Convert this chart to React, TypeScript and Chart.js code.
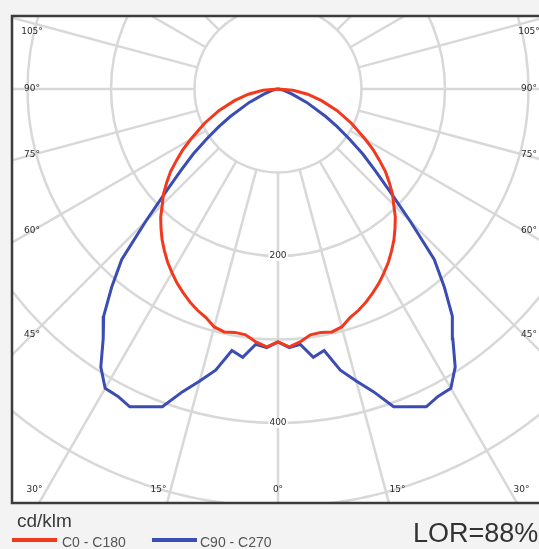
import React, { useEffect, useRef } from 'react';
import { Chart, registerables } from 'chart.js';

Chart.register(...registerables);

// Gamma angles (degrees from nadir) of the measured half-planes
const GAMMA = [0, 2.5, 5, 7.5, 10, 12.5, 15, 17.5, 20, 22.5, 25, 27.5, 30, 32.5, 35, 37.5, 40, 42.5, 45, 47.5, 50, 52.5, 55, 57.5, 60, 65, 70, 75, 80, 85, 90];
// Luminous intensity, cd/klm
const C0_C180 = [303, 309, 304, 297, 296, 298, 295, 287, 282, 276, 269, 262, 254, 246, 237, 228, 218, 208, 196, 186, 174, 162, 148, 135, 121, 97, 75, 54, 36, 18, 0];
const C90_C270 = [303, 310, 307, 324, 318, 345, 362, 380, 405, 412, 420, 415, 414, 395, 365, 343, 310, 277, 224, 182, 152, 128, 104, 84, 66, 38, 18, 8, 4, 2, 0];

const SERIES_NAMES = ['C0 - C180', 'C90 - C270'];
const SERIES_COLORS = ['#f2381d', '#3b4cb3'];
const RADIAL_RINGS = [100, 200, 300, 400, 500, 600, 700];
const RADIAL_LABELS = ['200', '400'];
const SPOKE_ANGLES = [0, 15, 30, 45, 60, 75, 90, 105, 120, 135, 150, 165, 180, 195, 210, 225, 240, 255, 270, 285, 300, 315, 330, 345];
const SIDE_LABELS = ['105°', '90°', '75°', '60°', '45°'];
const BOTTOM_LABELS = ['30°', '15°', '0°', '15°', '30°'];
const UNIT = 'cd/klm';
const LOR_TEXT = 'LOR=88%';

const rad = (d: number) => (d * Math.PI) / 180;

function polarPoints(values: number[]) {
  const pts: { x: number; y: number }[] = [];
  for (let i = GAMMA.length - 1; i >= 0; i--) {
    const g = rad(GAMMA[i]);
    pts.push({ x: -values[i] * Math.sin(g), y: -values[i] * Math.cos(g) });
  }
  for (let i = 1; i < GAMMA.length; i++) {
    const g = rad(GAMMA[i]);
    pts.push({ x: values[i] * Math.sin(g), y: -values[i] * Math.cos(g) });
  }
  return pts;
}

const polarGrid = {
  id: 'polarGrid',
  beforeDraw(chart: any) {
    const { ctx, chartArea: a, scales } = chart;
    const xs = scales.x;
    const ys = scales.y;
    const cx = xs.getPixelForValue(0);
    const cy = ys.getPixelForValue(0);
    const px = (v: number) => xs.getPixelForValue(v) - cx;
    ctx.save();
    ctx.fillStyle = '#f3f3f3';
    ctx.fillRect(0, 0, chart.width, chart.height);
    ctx.fillStyle = '#ffffff';
    ctx.fillRect(a.left, a.top, a.right - a.left, a.bottom - a.top);
    ctx.beginPath();
    ctx.rect(a.left, a.top, a.right - a.left, a.bottom - a.top);
    ctx.clip();
    ctx.strokeStyle = '#d8d8d8';
    ctx.lineWidth = 2.5;
    RADIAL_RINGS.forEach((r) => {
      ctx.beginPath();
      ctx.arc(cx, cy, px(r), 0, Math.PI * 2);
      ctx.stroke();
    });
    const r0 = px(RADIAL_RINGS[0]);
    const r1 = px(RADIAL_RINGS[RADIAL_RINGS.length - 1]);
    SPOKE_ANGLES.forEach((g) => {
      const s = Math.sin(rad(g));
      const c = Math.cos(rad(g));
      ctx.beginPath();
      ctx.moveTo(cx + r0 * s, cy + r0 * c);
      ctx.lineTo(cx + r1 * s, cy + r1 * c);
      ctx.stroke();
    });

    // labels
    ctx.fillStyle = '#2a2a2a';
    ctx.font = '9px "DejaVu Sans", sans-serif';
    ctx.textAlign = 'center';
    ctx.textBaseline = 'middle';
    const sideDx = cx - a.left - 19;
    SIDE_LABELS.forEach((t) => {
      const g = parseFloat(t);
      let yy = cy + sideDx / Math.tan(rad(g));
      if (yy < a.top + 15) yy = a.top + 15;
      ctx.fillText(t, cx - sideDx, yy);
      ctx.fillText(t, cx + sideDx + 5, yy);
    });
    const by = a.bottom - 12;
    BOTTOM_LABELS.forEach((t, i) => {
      const g = parseFloat(t);
      const sign = i < 2 ? -1 : 1;
      const off = g === 0 ? 0 : (by - cy) * Math.tan(rad(g)) + 12;
      ctx.fillText(t, cx + sign * off, by);
    });
    RADIAL_LABELS.forEach((t) => {
      const yy = cy + px(parseFloat(t));
      const w = ctx.measureText(t).width;
      ctx.fillStyle = '#ffffff';
      ctx.fillRect(cx - w / 2 - 1, yy - 5, w + 2, 10);
      ctx.fillStyle = '#2a2a2a';
      ctx.fillText(t, cx, yy);
    });
    ctx.restore();
  },
  afterDraw(chart: any) {
    const { ctx, chartArea: a } = chart;
    ctx.save();
    ctx.strokeStyle = '#3c3c3c';
    ctx.lineWidth = 2.5;
    ctx.strokeRect(a.left - 1, a.top - 1, a.right - a.left + 20, a.bottom - a.top + 2);
    ctx.restore();
  },
};

export default function App() {
  const ref = useRef<HTMLCanvasElement | null>(null);
  useEffect(() => {
    if (!ref.current) return;
    const chart = new Chart(ref.current, {
      type: 'scatter',
      data: {
        datasets: [
          {
            label: SERIES_NAMES[0],
            data: polarPoints(C0_C180),
            showLine: true,
            borderColor: SERIES_COLORS[0],
            backgroundColor: SERIES_COLORS[0],
            borderWidth: 3,
            pointRadius: 0,
            tension: 0,
          },
          {
            label: SERIES_NAMES[1],
            data: polarPoints(C90_C270),
            showLine: true,
            borderColor: SERIES_COLORS[1],
            backgroundColor: SERIES_COLORS[1],
            borderWidth: 3,
            pointRadius: 0,
            tension: 0,
          },
        ],
      },
      options: {
        responsive: false,
        maintainAspectRatio: false,
        animation: false,
        devicePixelRatio: 1,
        layout: { padding: { left: 13, top: 17, right: 0, bottom: 47 } },
        plugins: { legend: { display: false }, tooltip: { enabled: false } },
        scales: {
          x: { type: 'linear', min: -317.4, max: 312.6, display: false },
          y: { type: 'linear', min: -494.6, max: 86.2, display: false },
        },
      },
      plugins: [polarGrid],
    });
    return () => chart.destroy();
  }, []);

  const font = '"Liberation Sans", Arial, sans-serif';
  return (
    <div style={{ position: 'fixed', left: 0, top: 0, width: 539, height: 549, overflow: 'hidden', background: '#f3f3f3' }}>
      <canvas ref={ref} width={539} height={549} style={{ position: 'absolute', left: 0, top: 0 }} />
      <div style={{ position: 'absolute', left: 17, top: 511, fontFamily: font, fontSize: 19, lineHeight: 1, color: '#3a3a3a' }}>{UNIT}</div>
      <div style={{ position: 'absolute', left: 12, top: 538, width: 45, height: 4, background: SERIES_COLORS[0] }} />
      <div style={{ position: 'absolute', left: 62, top: 535, fontFamily: font, fontSize: 14, lineHeight: 1, color: '#555' }}>{SERIES_NAMES[0]}</div>
      <div style={{ position: 'absolute', left: 152, top: 538, width: 45, height: 4, background: SERIES_COLORS[1] }} />
      <div style={{ position: 'absolute', left: 200, top: 535, fontFamily: font, fontSize: 14, lineHeight: 1, color: '#555' }}>{SERIES_NAMES[1]}</div>
      <div style={{ position: 'absolute', left: 413, top: 520, fontFamily: font, fontSize: 27, lineHeight: 1, color: '#333', whiteSpace: 'nowrap' }}>{LOR_TEXT}</div>
    </div>
  );
}
